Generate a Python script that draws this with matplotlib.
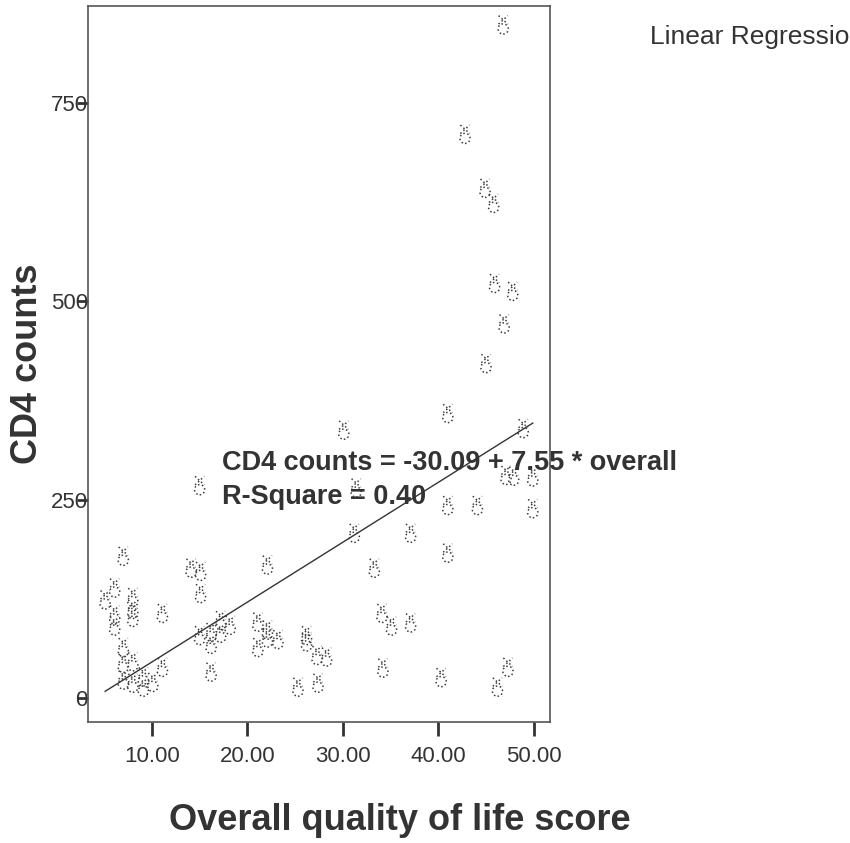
import matplotlib.pyplot as plt
from matplotlib.path import Path

# quality of life score vs CD4 counts
qol = [46.8, 42.8, 44.9, 45.8, 45.9, 47.8, 46.9, 45.0, 41.0, 48.9,
       30.1, 15.0, 47.1, 47.9, 49.9, 41.0, 44.1, 49.9, 31.4, 31.2,
       37.1, 41.0, 33.3, 22.1, 7.0, 6.1, 5.1, 8.0, 6.1, 6.1,
       8.0, 8.0, 11.1, 14.1, 15.1, 15.1, 7.0, 7.0, 8.0, 7.0,
       8.0, 9.1, 9.1, 10.1, 11.1, 15.0, 16.2, 16.2, 16.2, 17.2,
       17.2, 18.2, 21.1, 22.1, 22.1, 21.1, 23.2, 34.1, 35.1, 37.1,
       26.2, 26.2, 27.3, 28.3, 25.3, 27.4, 34.2, 40.3, 47.3, 46.2]
cd4 = [849, 711, 643, 624, 523, 513, 472, 422, 359, 340,
       338, 268, 281, 280, 279, 243, 243, 239, 265, 208,
       208, 183, 164, 168, 179, 139, 124, 127, 105, 91,
       112, 102, 107, 164, 160, 132, 64, 44, 46, 23,
       19, 27, 14, 20, 39, 79, 83, 68, 33, 98,
       82, 92, 96, 86, 76, 64, 74, 107, 91, 95,
       79, 71, 54, 52, 14, 19, 38, 26, 39, 14]

intercept = -30.09
slope = 7.55
r_square = 0.40

xticks = [10, 20, 30, 40, 50]
yticks = [0, 250, 500, 750]

plt.rcParams['font.family'] = ['Liberation Sans', 'DejaVu Sans']

# SPSS style symbol: little x sitting on top of an open circle
circ = Path.circle(center=(0, -0.35), radius=0.42)
cross = Path([(-0.38, 0.05), (0.38, 0.75), (-0.38, 0.75), (0.38, 0.05)],
             [Path.MOVETO, Path.LINETO, Path.MOVETO, Path.LINETO])
sym = Path.make_compound_path(circ, cross)

fig = plt.figure(figsize=(8.5, 8.43), dpi=100)
ax = fig.add_axes([0.1035, 0.1435, 0.5435, 0.8494])

ax.scatter(qol, cd4, marker=sym, s=180, facecolors='none',
           edgecolors='#3c3c3c', linewidths=1.1, linestyles=':', zorder=3)

xs = [min(qol), max(qol)]
ys = [intercept + slope * v for v in xs]
ax.plot(xs, ys, color='#333333', lw=1.0, zorder=2)

ax.text(17.3, 296, 'CD4 counts = %.2f + %.2f * overall' % (intercept, slope),
        fontsize=19.5, fontweight='bold', color='#333333', va='center')
ax.text(17.3, 253, 'R-Square = %.2f' % r_square,
        fontsize=19.5, fontweight='bold', color='#333333', va='center')

ax.set_xlim(3.3, 51.7)
ax.set_ylim(-30.3, 872.6)
ax.set_xticks(xticks)
ax.set_xticklabels(['%.2f' % v for v in xticks])
ax.set_yticks(yticks)
ax.set_yticklabels([str(v) for v in yticks])
ax.tick_params(axis='x', direction='out', length=10, width=2,
               labelsize=16, pad=7, colors='#333333')
ax.tick_params(axis='y', direction='out', length=8, width=2,
               labelsize=16, pad=-8, colors='#333333')
for s in ax.spines.values():
    s.set_color('#555555')
    s.set_linewidth(1.2)

ax.set_xlabel('Overall quality of life score', fontsize=26,
              fontweight='bold', color='#333333')
ax.xaxis.set_label_coords(0.675, -0.113)
ax.set_ylabel('CD4 counts', fontsize=26, fontweight='bold',
              color='#333333')
ax.yaxis.set_label_coords(-0.092, 0.5)

# title is cut off at the right edge in the original scan too
fig.text(650 / 850, 1 - 37 / 843, 'Linear Regression', fontsize=19,
         color='#333333', va='center')

fig.savefig('out.png', dpi=100)
